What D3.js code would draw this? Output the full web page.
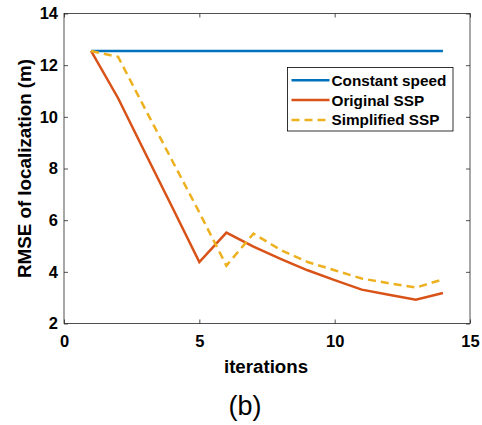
<!DOCTYPE html>
<meta charset="utf-8">
<style>
body { margin: 0; background: #fff; }
svg text { font-family: 'Liberation Sans', Arial, sans-serif; }
</style>
<body>
<svg class="chart"></svg>
<script src="https://d3js.org/d3.v7.min.js"></script>
<script>
// iteration index
let iterations = [1,2,3,4,5,6,7,8,9,10,11,12,13,14];

// RMSE values (m)
let constantSpeed = [12.55,12.55,12.55,12.55,12.55,12.55,12.55,12.55,12.55,12.55,12.55,12.55,12.55,12.55];
let originalSSP   = [12.55,10.72,8.6,6.5,4.38,5.52,4.98,4.5,4.06,3.68,3.31,3.11,2.92,3.18];
let simplifiedSSP = [12.55,12.32,10.3,8.3,6.3,4.24,5.48,4.85,4.38,4.06,3.74,3.56,3.39,3.71];

let seriesNames = ['Constant speed','Original SSP','Simplified SSP'];
let colorCode = ['#0072BD','#D95319','#EDB120'];

let xTicks = [0,5,10,15];
let yTicks = [2,4,6,8,10,12,14];

let rwidth = 482, rheight = 425;
let margin = {top:13.5, bottom:101.5, left:64, right:12};

let svg = d3.select('.chart').attr('width', rwidth).attr('height', rheight);

let xscale = d3.scaleLinear().domain([0,15]).range([margin.left, rwidth - margin.right]);
let yscale = d3.scaleLinear().domain([2,14]).range([rheight - margin.bottom, margin.top]);

let axisColor = '#262626';
let tickLen = 4;

// box
svg.append('rect')
   .attr('x', xscale(0)).attr('y', yscale(14))
   .attr('width', xscale(15) - xscale(0)).attr('height', yscale(2) - yscale(14))
   .attr('fill', 'none').attr('stroke', axisColor).attr('stroke-width', 0.8);

function styleAxis(g) {
  g.select('.domain').remove();
  g.selectAll('.tick line').attr('stroke', axisColor).attr('stroke-width', 0.8);
  g.selectAll('.tick text').attr('fill', '#000')
   .style('font-size', '16.5px').style('font-weight', 'bold');
}

svg.append('g').attr('transform', `translate(0,${yscale(2)})`)
   .call(d3.axisBottom(xscale).tickValues(xTicks).tickSizeInner(-tickLen).tickSizeOuter(0).tickPadding(11.5))
   .call(styleAxis);
svg.append('g').attr('transform', `translate(0,${yscale(14)})`)
   .call(d3.axisTop(xscale).tickValues(xTicks).tickSizeInner(-tickLen).tickSizeOuter(0).tickFormat(''))
   .call(styleAxis);
svg.append('g').attr('transform', `translate(${xscale(0)},0)`)
   .call(d3.axisLeft(yscale).tickValues(yTicks).tickSizeInner(-tickLen).tickSizeOuter(0).tickPadding(6))
   .call(styleAxis);
svg.append('g').attr('transform', `translate(${xscale(15)},0)`)
   .call(d3.axisRight(yscale).tickValues(yTicks).tickSizeInner(-tickLen).tickSizeOuter(0).tickFormat(''))
   .call(styleAxis);

// lines
let allSeries = [constantSpeed, originalSSP, simplifiedSSP];
let line = d3.line().x((d,i) => xscale(iterations[i])).y(d => yscale(d));

allSeries.forEach((vals, i) => {
  svg.append('path')
     .datum(vals)
     .attr('d', line)
     .attr('fill', 'none')
     .attr('stroke', colorCode[i])
     .attr('stroke-width', 2.5)
     .attr('stroke-dasharray', i == 2 ? '8,5' : null);
});

// legend
let lg = svg.append('g').attr('transform', 'translate(287.5,67.5)');
lg.append('rect').attr('width', 165.5).attr('height', 63.5)
  .attr('fill', '#fff').attr('stroke', '#000').attr('stroke-width', 0.8);
seriesNames.forEach((name, i) => {
  let yy = 12.8 + i * 19.8;
  lg.append('line').attr('x1', 4).attr('x2', 42).attr('y1', yy).attr('y2', yy)
    .attr('stroke', colorCode[i]).attr('stroke-width', 2.5)
    .attr('stroke-dasharray', i == 2 ? '8,5' : null);
  lg.append('text').attr('x', 44).attr('y', yy).attr('dy', '0.36em')
    .style('font-size', '15.3px').style('font-weight', 'bold').text(name);
});

// axis labels
svg.append('text')
   .attr('transform', `translate(31,${(yscale(2) + yscale(14)) / 2}) rotate(-90)`)
   .attr('text-anchor', 'middle')
   .style('font-size', '18.8px').style('font-weight', 'bold')
   .text('RMSE of localization (m)');

svg.append('text')
   .attr('x', 266).attr('y', 373)
   .attr('text-anchor', 'middle')
   .style('font-size', '18.7px').style('font-weight', 'bold')
   .text('iterations');

svg.append('text')
   .attr('x', 245).attr('y', 415)
   .attr('text-anchor', 'middle')
   .style('font-size', '27px')
   .text('(b)');
</script>
</body>
